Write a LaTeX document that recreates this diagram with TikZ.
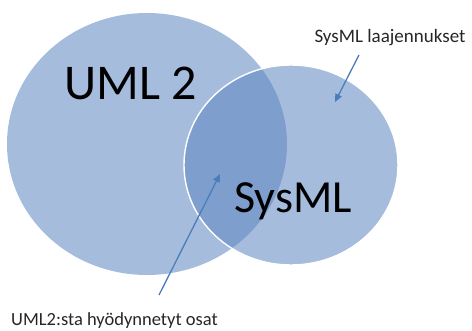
\documentclass[tikz,border=0pt]{standalone}
\usepackage{fontspec}
\setmainfont{Carlito}
\usetikzlibrary{arrows.meta}
\definecolor{setfill}{HTML}{A5BCDD}
\definecolor{lensfill}{HTML}{7E9ECE}
\definecolor{pointer}{HTML}{4A7EBB}
\tikzset{
  setlabel/.style={inner sep=0pt, text=black},
  note/.style={inner sep=0pt, text=black!85},
  pointerline/.style={draw=pointer, line width=1.3pt, -{Triangle[length=8pt,width=7pt]}},
}
\begin{document}
\begin{tikzpicture}[x=1pt,y=-1pt]
  \useasboundingbox (0,0) rectangle (472,331);
  % the two sets
  \fill[setfill] (147,144) ellipse [x radius=140, y radius=131];
  \fill[setfill] (291,165) ellipse [x radius=107, y radius=100];
  % shared part
  \begin{scope}
    \clip (291,165) ellipse [x radius=107, y radius=100];
    \fill[lensfill] (147,144) ellipse [x radius=140, y radius=131];
  \end{scope}
  \draw[white, line width=1.4pt] (291,165) ellipse [x radius=107, y radius=100];
  % set names
  \node[setlabel, font=\fontsize{50}{52}\selectfont, anchor=base] (uml) at (131,100) {UML 2};
  \node[setlabel, font=\fontsize{46}{48}\selectfont, anchor=base] (sysml) at (293,213) {SysML};
  % annotations
  \node[note, font=\fontsize{19}{21}\selectfont, anchor=base] (ext) at (390,43) {SysML laajennukset};
  \node[note, font=\fontsize{18.5}{21}\selectfont, anchor=base west] (reuse) at (11,326) {UML2:sta hyödynnetyt osat};
  \coordinate (extfrom) at (359,55);
  \coordinate (extto) at (335,102);
  \coordinate (reusefrom) at (159,295);
  \coordinate (reuseto) at (220,174);
  \draw[pointerline] (extfrom) -- (extto);
  \draw[pointerline] (reusefrom) -- (reuseto);
\end{tikzpicture}
\end{document}
